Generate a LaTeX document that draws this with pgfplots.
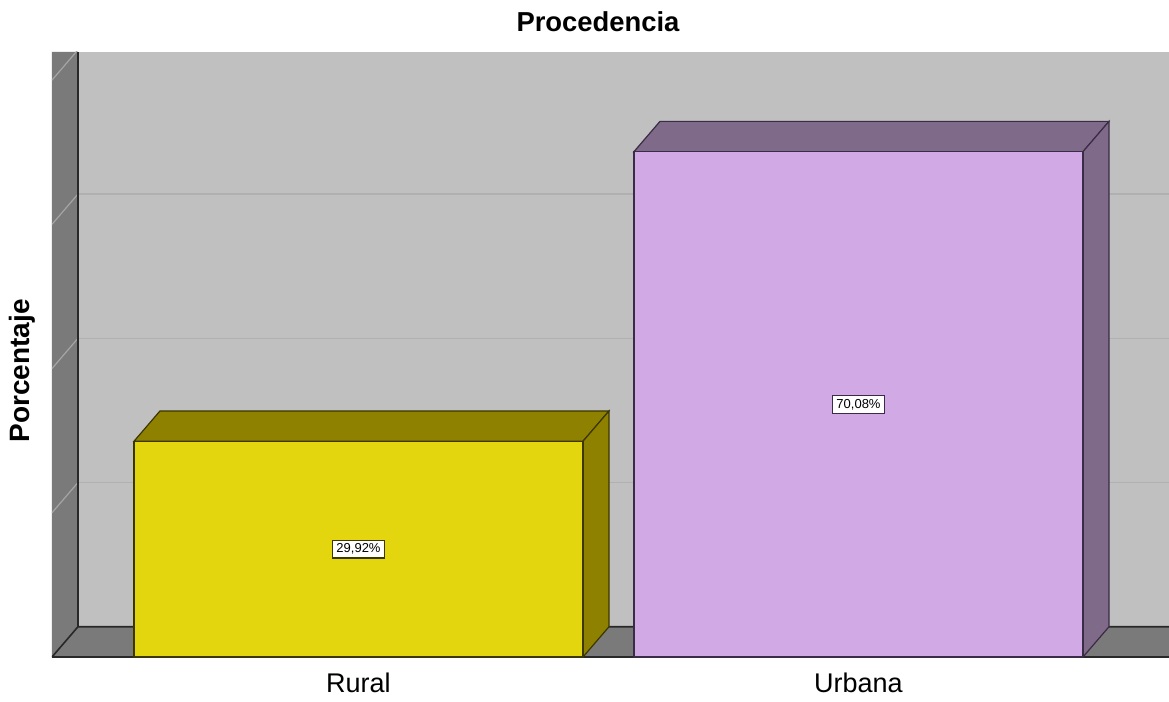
\documentclass[border=0pt]{standalone}
\usepackage{pgfplots}
\pgfplotsset{compat=1.18}
\usepackage{fontspec}
\setmainfont{Liberation Sans}
\definecolor{wall}{RGB}{192,192,192}
\definecolor{darkwall}{RGB}{122,122,122}
\definecolor{gridc}{RGB}{176,176,176}
\definecolor{wallline}{RGB}{165,165,165}
\definecolor{edgec}{RGB}{40,40,40}
\definecolor{ruralF}{RGB}{228,214,14}
\definecolor{ruralS}{RGB}{143,129,0}
\definecolor{ruralL}{RGB}{60,54,0}
\definecolor{urbF}{RGB}{209,169,228}
\definecolor{urbS}{RGB}{127,106,137}
\definecolor{urbL}{RGB}{58,44,70}
\begin{document}
\begin{tikzpicture}
\begin{axis}[name=ax, scale only axis, width=558.5pt, height=302.5pt,
  xmin=-0.613, xmax=1.621, ymin=0, ymax=83.9,
  clip mode=individual,
  axis background/.style={fill=wall},
  axis line style={draw=none},
  xtick={0,1}, xticklabels={Rural,Urbana}, ytick=\empty,
  major tick length=0pt,
  xticklabel style={font=\fontsize{13.5}{16}\selectfont, yshift=-4.5pt},
  ]
% left wall and floor
\addplot[fill=darkwall, draw=none] coordinates {(-0.613,0) (-0.561,4.2) (-0.561,83.9) (-0.613,83.9)} -- cycle;
\addplot[fill=darkwall, draw=none] coordinates {(-0.613,0) (-0.561,4.2) (1.621,4.2) (1.621,0)} -- cycle;
% gridlines on back wall
\addplot[gridc, line width=0.6pt] coordinates {(-0.561,24.2) (1.621,24.2)};
\addplot[gridc, line width=0.6pt] coordinates {(-0.561,44.2) (1.621,44.2)};
\addplot[gridc, line width=0.6pt] coordinates {(-0.561,64.2) (1.621,64.2)};
% gridlines on left wall
\addplot[wallline, line width=0.6pt] coordinates {(-0.613,20) (-0.561,24.2)};
\addplot[wallline, line width=0.6pt] coordinates {(-0.613,40) (-0.561,44.2)};
\addplot[wallline, line width=0.6pt] coordinates {(-0.613,60) (-0.561,64.2)};
\addplot[wallline, line width=0.6pt] coordinates {(-0.613,80) (-0.561,84.2)};
% edges
\addplot[edgec, line width=0.8pt] coordinates {(-0.613,0) (-0.561,4.2) (1.621,4.2)};
\addplot[edgec, line width=0.8pt] coordinates {(-0.561,4.2) (-0.561,83.9)};
\addplot[edgec, line width=0.8pt] coordinates {(-0.613,0) (1.621,0)};
% Rural bar (29.92)
\addplot[fill=ruralS, draw=ruralL, line width=0.6pt] coordinates {(-0.449,29.92) (-0.397,34.12) (0.501,34.12) (0.449,29.92)} -- cycle;
\addplot[fill=ruralS, draw=ruralL, line width=0.6pt] coordinates {(0.449,0) (0.501,4.2) (0.501,34.12) (0.449,29.92)} -- cycle;
\addplot[fill=ruralF, draw=ruralL, line width=0.6pt] coordinates {(-0.449,0) (0.449,0) (0.449,29.92) (-0.449,29.92)} -- cycle;
% Urbana bar (70.08)
\addplot[fill=urbS, draw=urbL, line width=0.6pt] coordinates {(0.551,70.08) (0.603,74.28) (1.501,74.28) (1.449,70.08)} -- cycle;
\addplot[fill=urbS, draw=urbL, line width=0.6pt] coordinates {(1.449,0) (1.501,4.2) (1.501,74.28) (1.449,70.08)} -- cycle;
\addplot[fill=urbF, draw=urbL, line width=0.6pt] coordinates {(0.551,0) (1.449,0) (1.449,70.08) (0.551,70.08)} -- cycle;
% value labels
\node[fill=white, draw=ruralL, line width=0.6pt, inner sep=1.8pt, font=\fontsize{6.5}{7}\selectfont] at (axis cs:0,14.96) {29,92\%};
\node[fill=white, draw=urbL, line width=0.6pt, inner sep=1.8pt, font=\fontsize{6.5}{7}\selectfont] at (axis cs:1,35.04) {70,08\%};
\end{axis}
% title and y label
\path (ax.north west) ++(273pt,10pt) node[anchor=base, font=\bfseries\fontsize{13.7}{16}\selectfont] {Procedencia};
\path (ax.south west) ++(-15pt,143pt) node[rotate=90, font=\bfseries\fontsize{14}{16}\selectfont] {Porcentaje};
\pgfresetboundingbox
\path (ax.south west) ++(-26pt,-22.5pt) rectangle ([yshift=26pt]ax.north east);
\end{tikzpicture}
\end{document}
